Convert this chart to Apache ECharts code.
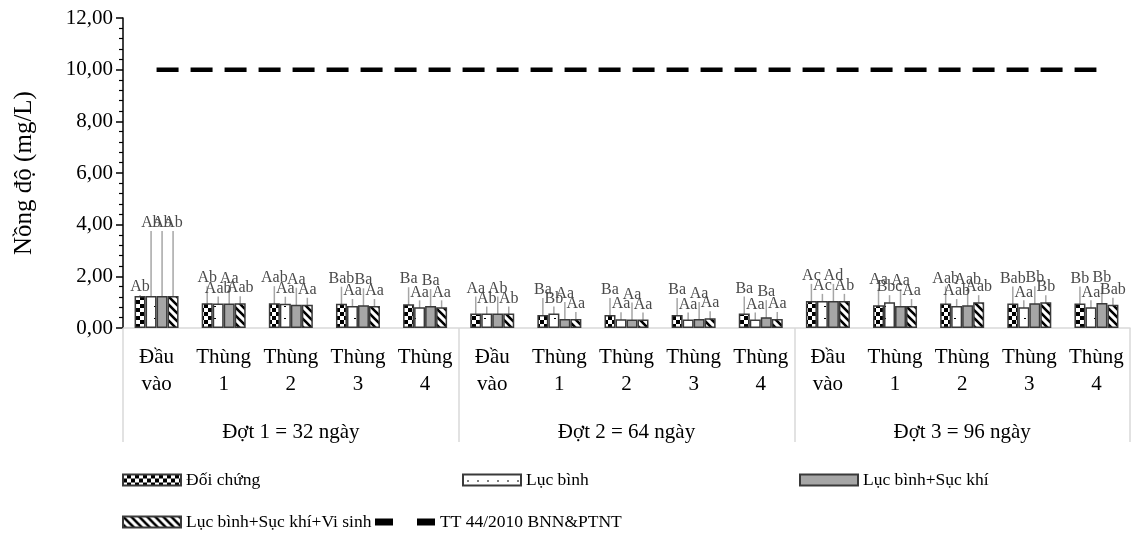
<!DOCTYPE html>
<html>
<head>
<meta charset="utf-8">
<script src="https://cdn.jsdelivr.net/npm/echarts@6/dist/echarts.min.js"></script>
<style>html,body{margin:0;padding:0;background:#fff}#c{width:1136px;height:534px}</style>
</head>
<body>
<div id="c"></div>
<script>
const subCats = ['Đầu\nvào', 'Thùng\n1', 'Thùng\n2', 'Thùng\n3', 'Thùng\n4'];
const groups = ['Đợt 1 = 32 ngày', 'Đợt 2 = 64 ngày', 'Đợt 3 = 96 ngày'];
const seriesNames = ['Đối chứng', 'Lục bình', 'Lục bình+Sục khí', 'Lục bình+Sục khí+Vi sinh'];
const lineName = 'TT 44/2010 BNN&PTNT';
const doiChung = [1.24, 0.96, 0.96, 0.94, 0.92, 0.56, 0.50, 0.50, 0.50, 0.56, 1.05, 0.88, 0.95, 0.95, 0.95];
const lucBinh  = [1.24, 0.95, 0.94, 0.85, 0.80, 0.56, 0.56, 0.34, 0.33, 0.33, 1.05, 1.00, 0.85, 0.80, 0.80];
const sucKhi   = [1.24, 0.95, 0.90, 0.88, 0.85, 0.56, 0.35, 0.33, 0.35, 0.42, 1.05, 0.85, 0.88, 0.96, 0.97];
const viSinh   = [1.24, 0.96, 0.90, 0.85, 0.80, 0.56, 0.35, 0.33, 0.38, 0.35, 1.05, 0.85, 1.00, 1.00, 0.90];
const standard = [10, 10, 10, 10, 10, 10, 10, 10, 10, 10, 10, 10, 10, 10, 10];
const letters = [
  ['Ab','Ab','Aab','Bab','Ba', 'Aa','Ba','Ba','Ba','Ba', 'Ac','Aa','Aab','Bab','Bb'],
  ['Ab','Aab','Aa','Aa','Aa', 'Ab','Bb','Aa','Aa','Aa', 'Ac','Bbc','Aab','Aa','Aa'],
  ['Ab','Aa','Aa','Ba','Ba', 'Ab','Aa','Aa','Aa','Ba', 'Ad','Aa','Aab','Bb','Bb'],
  ['Ab','Aab','Aa','Aa','Aa', 'Ab','Aa','Aa','Aa','Aa', 'Ab','Aa','Aab','Bb','Bab']
];
const yTicks = [0, 2, 4, 6, 8, 10, 12];

const categories = [];
groups.forEach(() => subCats.forEach(s => categories.push(s)));

function pattern(w, h, draw) {
  const c = document.createElement('canvas');
  c.width = w; c.height = h;
  const g = c.getContext('2d');
  draw(g);
  return { image: c, repeat: 'repeat' };
}
const checker = pattern(8, 8, g => {
  g.fillStyle = '#000'; g.fillRect(0, 0, 8, 8);
  g.fillStyle = '#fff'; g.fillRect(0, 0, 4, 4); g.fillRect(4, 4, 4, 4);
});
const dots = pattern(10, 12, g => {
  g.fillStyle = '#fff'; g.fillRect(0, 0, 10, 12);
  g.fillStyle = '#000'; g.fillRect(4, 6, 2, 1);
});
const stripes = pattern(8, 8, g => {
  g.fillStyle = '#fff'; g.fillRect(0, 0, 8, 8);
  g.strokeStyle = '#000'; g.lineWidth = 2.6;
  g.beginPath();
  g.moveTo(-2, -2); g.lineTo(10, 10);
  g.moveTo(-2, 6); g.lineTo(2, 10);
  g.moveTo(6, -2); g.lineTo(10, 2);
  g.stroke();
});
const fills = [checker, dots, '#a6a6a6', stripes];
const dataArr = [doiChung, lucBinh, sucKhi, viSinh];
const lifts = [-14, -4, -14, -4];
const specialLift = { '0-0': 2, '0-1': -62, '0-2': -62, '0-3': -62 };

const font = 'Liberation Serif';
const barSeries = dataArr.map((d, si) => ({
  name: seriesNames[si],
  type: 'bar',
  data: d,
  barWidth: 11,
  barGap: '0%',
  itemStyle: { color: fills[si], borderColor: '#3a3a3a', borderWidth: 1.5 },
  label: {
    show: true, position: 'top', distance: 3,
    formatter: p => letters[si][p.dataIndex],
    fontFamily: font, fontSize: 16, color: '#4a4a4a'
  },
  labelLine: { show: true, lineStyle: { color: '#a6a6a6', width: 1.5 } },
  labelLayout: p => {
    const k = p.dataIndex + '-' + si;
    return { dy: (k in specialLift) ? specialLift[k] : lifts[si] };
  }
}));

const legendText = { fontFamily: font, fontSize: 17.5, color: '#000' };
const chart = echarts.init(document.getElementById('c'));
chart.setOption({
  animation: false,
  backgroundColor: '#fff',
  textStyle: { fontFamily: font },
  grid: { left: 123, right: 6, top: 18, bottom: 206, containLabel: false },
  xAxis: [
    {
      type: 'category', data: categories, position: 'bottom',
      axisLine: { lineStyle: { color: '#d9d9d9', width: 1.5 } },
      axisTick: { show: false },
      axisLabel: { interval: 0, margin: 16, fontFamily: font, fontSize: 21, color: '#000', lineHeight: 27 }
    },
    {
      type: 'category', data: groups, position: 'bottom',
      axisLine: { show: false },
      axisTick: { show: true, length: 114, interval: 0, lineStyle: { color: '#d9d9d9', width: 1.5 } },
      axisLabel: { interval: 0, margin: 94, fontFamily: font, fontSize: 21, color: '#000' },
      splitLine: { show: false }
    }
  ],
  yAxis: {
    type: 'value', min: yTicks[0], max: yTicks[yTicks.length - 1], interval: 2,
    name: 'Nồng độ (mg/L)', nameLocation: 'middle', nameGap: 86, nameRotate: 90,
    nameTextStyle: { fontFamily: font, fontSize: 25, color: '#000' },
    axisLine: { show: true, lineStyle: { color: '#000', width: 1.5 } },
    axisTick: { show: true, length: 7, lineStyle: { color: '#000', width: 1.5 } },
    minorTick: { show: true, splitNumber: 5, length: 4, lineStyle: { color: '#000', width: 1.2 } },
    splitLine: { show: false },
    axisLabel: { fontFamily: font, fontSize: 21, color: '#000', margin: 10,
      formatter: v => v.toFixed(2).replace('.', ',') }
  },
  legend: [
    { data: [{ name: seriesNames[0], icon: 'rect' }], left: 122, top: 471 },
    { data: [{ name: seriesNames[1], icon: 'rect' }], left: 462, top: 471 },
    { data: [{ name: seriesNames[2], icon: 'rect' }], left: 799, top: 471 },
    { data: [{ name: seriesNames[3], icon: 'rect' }], left: 122, top: 513 },
    { data: [{ name: lineName, icon: 'path://M0,0H18V7H0Z M42,0H60V7H42Z' }], left: 375, top: 513,
      itemHeight: 7, itemWidth: 60 }
  ].map(l => Object.assign({
    itemWidth: 58, itemHeight: 11, itemGap: 6, padding: 0,
    textStyle: legendText
  }, l)),
  series: barSeries.concat([{
    name: lineName, type: 'line', data: standard, symbol: 'none',
    lineStyle: { color: '#000', width: 4.5, type: [22, 12] },
    itemStyle: { color: '#000' },
    z: 5
  }])
});
</script>
</body>
</html>
